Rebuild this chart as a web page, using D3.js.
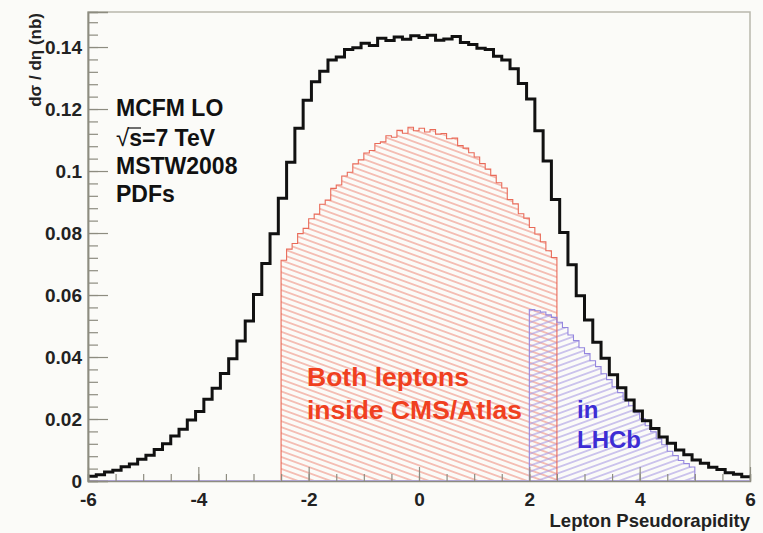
<!DOCTYPE html>
<html><head><meta charset="utf-8">
<script src="https://cdn.jsdelivr.net/npm/d3@7"></script>
<style>
body{margin:0;background:#fbfbf8;}
svg{display:block;}
text{font-family:"Liberation Sans",Arial,Helvetica,sans-serif;font-weight:bold;}
</style></head><body>
<svg id="c" width="763" height="533"></svg>
<script>
// ---------- data ----------
const xTickValues = [-6, -4, -2, 0, 2, 4, 6];
const yTickValues = [0, 0.02, 0.04, 0.06, 0.08, 0.1, 0.12, 0.14];
const xDomain = [-6, 6];
const yDomain = [0, 0.1513];

// all leptons (black), bins of 0.15 from -6 to 6
const blackStart = -6, blackWidth = 0.15;
const blackValues = [
  0.0015, 0.0020, 0.0029, 0.0035, 0.0046, 0.0055, 0.0070, 0.0083, 0.0102, 0.0120,
  0.0145, 0.0167, 0.0197, 0.0224, 0.0264, 0.0299, 0.0347, 0.0394, 0.0452, 0.0516,
  0.0602, 0.0702, 0.0798, 0.0912, 0.1028, 0.1138, 0.1228, 0.1288, 0.1322, 0.1358,
  0.1368, 0.1392, 0.1398, 0.1412, 0.1405, 0.1428, 0.1421, 0.1432, 0.1425, 0.1436,
  0.1431, 0.1438, 0.1422, 0.1426, 0.1434, 0.1415, 0.1408, 0.1396, 0.1392, 0.1370,
  0.1358, 0.1330, 0.1282, 0.1232, 0.1130, 0.1032, 0.0908, 0.0802, 0.0698, 0.0598,
  0.0519, 0.0448, 0.0396, 0.0343, 0.0301, 0.0261, 0.0226, 0.0194, 0.0169, 0.0142,
  0.0122, 0.0100, 0.0085, 0.0068, 0.0057, 0.0044, 0.0037, 0.0027, 0.0022, 0.0014
];

// both leptons inside CMS/Atlas (red), bins of 0.1 from -2.5 to 2.5
const redStart = -2.5, redWidth = 0.1;
const redValues = [
  0.0712, 0.0748, 0.0766, 0.0798, 0.0815, 0.0846, 0.0861, 0.0893, 0.0906, 0.0944,
  0.0955, 0.0984, 0.0996, 0.1023, 0.1036, 0.1058, 0.1066, 0.1089, 0.1094, 0.1114,
  0.1109, 0.1131, 0.1122, 0.1141, 0.1130,
  0.1138, 0.1126, 0.1134, 0.1119, 0.1121, 0.1104, 0.1106, 0.1082, 0.1074, 0.1059,
  0.1045, 0.1024, 0.1006, 0.0986, 0.0962, 0.0945, 0.0908, 0.0894, 0.0862, 0.0848,
  0.0818, 0.0797, 0.0772, 0.0743, 0.0721
];

// in LHCb (blue), bins of 0.1 from 2.0 to 5.0
const blueStart = 2.0, blueWidth = 0.1;
const blueValues = [
  0.0553, 0.0549, 0.0545, 0.0536, 0.0528, 0.0512, 0.0495, 0.0471, 0.0453, 0.0430,
  0.0411, 0.0388, 0.0369, 0.0346, 0.0327, 0.0304, 0.0285, 0.0262, 0.0243, 0.0220,
  0.0201, 0.0178, 0.0159, 0.0136, 0.0117, 0.0096, 0.0082, 0.0066, 0.0056, 0.0045
];

const infoLines = ["MCFM LO", "s=7 TeV", "MSTW2008", "PDFs"];
const redLabel = ["Both leptons", "inside CMS/Atlas"];
const blueLabel = ["in", "LHCb"];

// ---------- drawing ----------
const svg = d3.select("#c");
const L = 88, R = 750, T = 12, B = 481;
const x = d3.scaleLinear().domain(xDomain).range([L, R]);
const y = d3.scaleLinear().domain(yDomain).range([B, T]);

svg.append("rect").attr("width", 763).attr("height", 533).attr("fill", "#fbfbf8");

const defs = svg.append("defs");
function hatch(id, color, angle, gap) {
  const p = defs.append("pattern").attr("id", id)
    .attr("patternUnits", "userSpaceOnUse")
    .attr("width", 12).attr("height", gap)
    .attr("patternTransform", `rotate(${angle})`);
  p.append("line").attr("x1", 0).attr("x2", 12).attr("y1", gap / 2).attr("y2", gap / 2)
    .attr("stroke", color).attr("stroke-width", 1.1);
}
hatch("hRed", "#ef9484", 20, 5.6);
hatch("hBlue", "#a99ce4", -20, 5.6);

// frame
svg.append("rect").attr("x", L).attr("y", T).attr("width", R - L).attr("height", B - T)
  .attr("fill", "none").attr("stroke", "#b9b8ac").attr("stroke-width", 1.5);

function stepPoints(start, width, vals, closed) {
  const pts = [];
  if (closed) pts.push([x(start), y(0)]);
  vals.forEach((v, i) => {
    pts.push([x(start + i * width), y(v)]);
    pts.push([x(start + (i + 1) * width), y(v)]);
  });
  if (closed) pts.push([x(start + vals.length * width), y(0)]);
  return pts;
}
const line = d3.line();

const redPts = stepPoints(redStart, redWidth, redValues, true);
svg.append("path").attr("d", line(redPts) + "Z").attr("fill", "url(#hRed)").attr("stroke", "none");
const bluePts = stepPoints(blueStart, blueWidth, blueValues, true);
svg.append("path").attr("d", line(bluePts) + "Z").attr("fill", "url(#hBlue)").attr("stroke", "none");
svg.append("path").attr("d", line(redPts)).attr("fill", "none").attr("stroke", "#e96a58").attr("stroke-width", 1.1);
svg.append("path").attr("d", line(bluePts)).attr("fill", "none").attr("stroke", "#9486de").attr("stroke-width", 1.1);

// zero line of the histograms
svg.append("line").attr("x1", x(-6)).attr("x2", x(6)).attr("y1", y(0)).attr("y2", y(0))
  .attr("stroke", "#b9aceb").attr("stroke-width", 2);

// black histogram
svg.append("path").attr("d", line(stepPoints(blackStart, blackWidth, blackValues, false)))
  .attr("fill", "none").attr("stroke", "#111").attr("stroke-width", 3).attr("stroke-linejoin", "miter");

// axes
const axisColor = "#8d8c80";
const yMinor = svg.append("g").attr("transform", `translate(${L},0)`)
  .call(d3.axisLeft(y).tickValues(d3.range(0, 0.1505, 0.004)).tickSize(-10).tickFormat(""));
const yMajor = svg.append("g").attr("transform", `translate(${L},0)`)
  .call(d3.axisLeft(y).tickValues(yTickValues).tickSize(-20).tickPadding(6)
    .tickFormat(d => d === 0 ? "0" : String(+d.toFixed(2))));
const xMinor = svg.append("g").attr("transform", `translate(0,${B})`)
  .call(d3.axisBottom(x).tickValues(d3.range(-6, 6.01, 0.5)).tickSize(-7).tickFormat(""));
const xMajor = svg.append("g").attr("transform", `translate(0,${B})`)
  .call(d3.axisBottom(x).tickValues(xTickValues).tickSize(-14).tickPadding(8)
    .tickFormat(d => d < 0 ? "-" + Math.abs(d) : String(d)));
[yMinor, yMajor, xMinor, xMajor].forEach(g => {
  g.select(".domain").attr("stroke", axisColor).attr("stroke-width", 1.5);
  g.selectAll(".tick line").attr("stroke", axisColor).attr("stroke-width", 1.2);
  g.selectAll("text").attr("fill", "#222").attr("font-size", 19)
    .attr("font-family", "'Liberation Sans',Arial,sans-serif").attr("font-weight", "bold");
});
xMajor.select(".domain").remove();
xMajor.selectAll("text").attr("dy", "0.9em");

// axis titles
svg.append("text").attr("transform", "translate(41,13) rotate(-90)")
  .attr("text-anchor", "end").attr("font-size", 17).attr("fill", "#222")
  .text("dσ / dη (nb)");
svg.append("text").attr("x", 750).attr("y", 527).attr("text-anchor", "end")
  .attr("font-size", 18.5).attr("fill", "#222").text("Lepton Pseudorapidity");

// info text
const infoY = [116, 146, 174, 202];
infoLines.forEach((t, i) => {
  const tx = svg.append("text").attr("x", 116).attr("y", infoY[i]).attr("font-size", 23).attr("fill", "#111");
  if (i === 1) {
    tx.append("tspan").attr("font-weight", "normal").attr("font-size", 24).text("√");
    tx.append("tspan").text(t);
  } else tx.text(t);
});
svg.append("line").attr("x1", 128).attr("x2", 141).attr("y1", infoY[1] - 18).attr("y2", infoY[1] - 18)
  .attr("stroke", "#111").attr("stroke-width", 1.2);

// red label
redLabel.forEach((t, i) => {
  svg.append("text").attr("x", 307).attr("y", [386, 419][i]).attr("font-size", 26.5)
    .attr("fill", "#f0401f").text(t);
});
// blue label
blueLabel.forEach((t, i) => {
  svg.append("text").attr("x", 577).attr("y", [418, 448][i]).attr("font-size", 24)
    .attr("fill", "#3d2dd4").text(t);
});
</script>
</body></html>
